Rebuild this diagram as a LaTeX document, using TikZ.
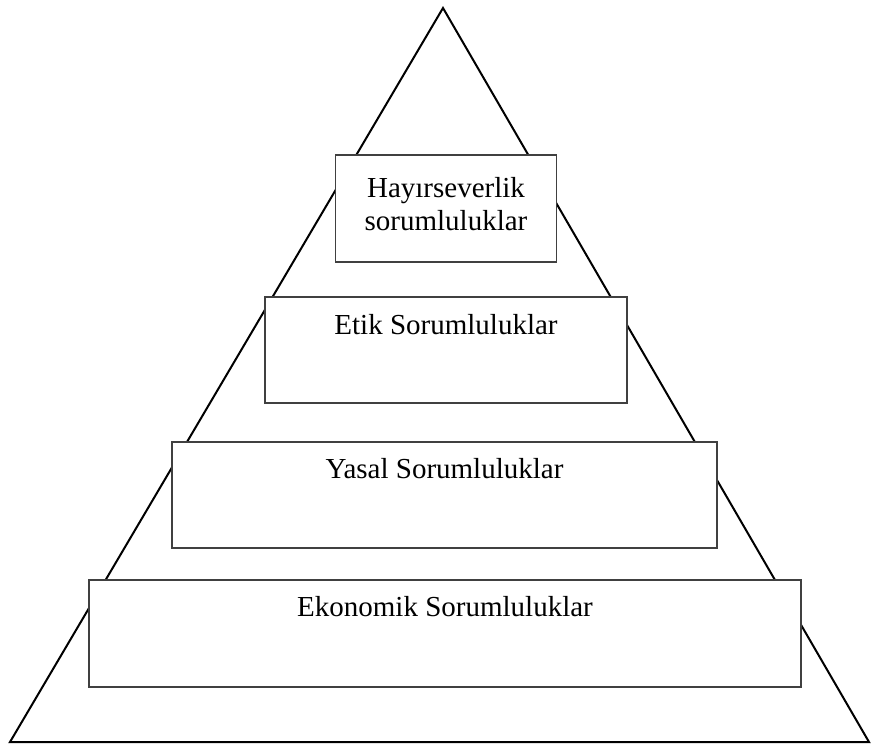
\documentclass[tikz,border=0pt]{standalone}
\usepackage{fontspec}
\setmainfont{Liberation Serif}
\begin{document}
\begin{tikzpicture}[x=1pt,y=-1pt,
  tri/.style={draw=black,line width=2pt,line join=miter},
  levelbox/.style={draw=black!75,line width=1.3pt,fill=white,rectangle,inner sep=0pt},
  lbl/.style={anchor=base,inner sep=0pt,font=\fontsize{29}{33}\selectfont}]
\useasboundingbox (0,0) rectangle (872,746);
\coordinate (apex) at (443,8);
\coordinate (bl) at (10,742);
\coordinate (br) at (869,742);
\draw[tri] (apex) -- (bl) -- (br) -- cycle;
% boxes
\node[levelbox,minimum width=221pt,minimum height=107pt] (b1) at (446,208.5) {};
\node[levelbox,minimum width=362pt,minimum height=106pt] (b2) at (446,350) {};
\node[levelbox,minimum width=545pt,minimum height=106pt] (b3) at (444.5,495) {};
\node[levelbox,minimum width=712pt,minimum height=107pt] (b4) at (445,633.5) {};
% labels
\node[lbl] (t1a) at (446,197) {Hayırseverlik};
\node[lbl] (t1b) at (446,230) {sorumluluklar};
\node[lbl] (t2) at (446,334) {Etik Sorumluluklar};
\node[lbl] (t3) at (444.5,478) {Yasal Sorumluluklar};
\node[lbl] (t4) at (445,616) {Ekonomik Sorumluluklar};
\end{tikzpicture}
\end{document}
